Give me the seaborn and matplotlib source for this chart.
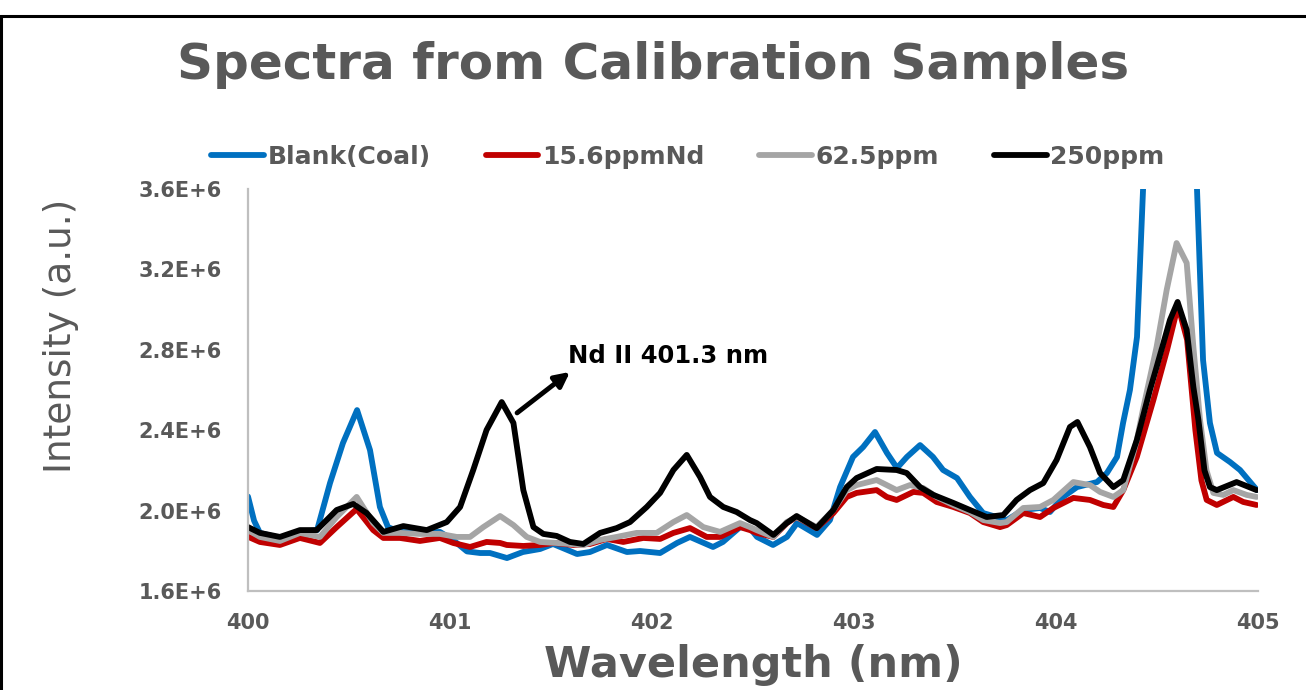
import matplotlib
matplotlib.use("Agg")
import matplotlib.pyplot as plt
import seaborn as sns
import pandas as pd
from matplotlib.lines import Line2D

# ---------------- data (intensity in units of 1E+6) ----------------
series_names = ["Blank(Coal)", "15.6ppmNd", "62.5ppm", "250ppm"]
series_colors = ["#0070C0", "#C00000", "#A5A5A5", "#000000"]

blank_wl = [400.000, 400.030, 400.059, 400.158, 400.257, 400.342, 400.406, 400.470, 400.540, 400.604,
            400.653, 400.693, 400.752, 400.851, 400.950, 401.015, 401.084, 401.149, 401.198, 401.282,
            401.361, 401.446, 401.510, 401.629, 401.693, 401.777, 401.876, 401.941, 402.040, 402.124,
            402.188, 402.302, 402.351, 402.436, 402.485, 402.520, 402.599, 402.668, 402.718, 402.817,
            402.881, 402.931, 402.995, 403.045, 403.104, 403.163, 403.213, 403.262, 403.327, 403.391,
            403.441, 403.510, 403.574, 403.639, 403.723, 403.757, 403.837, 403.921, 403.970, 404.035,
            404.104, 404.203, 404.252, 404.302, 404.332, 404.366, 404.401, 404.431, 404.500, 404.600,
            404.680, 404.698, 404.728, 404.762, 404.797, 404.861, 404.911, 404.995]
blank_int = [2.070, 1.950, 1.889, 1.864, 1.894, 1.903, 2.137, 2.336, 2.500, 2.301,
             2.018, 1.918, 1.894, 1.889, 1.894, 1.854, 1.797, 1.789, 1.789, 1.764,
             1.794, 1.809, 1.834, 1.784, 1.794, 1.829, 1.794, 1.799, 1.789, 1.839,
             1.869, 1.819, 1.844, 1.918, 1.913, 1.869, 1.829, 1.869, 1.938, 1.879,
             1.953, 2.117, 2.267, 2.316, 2.391, 2.287, 2.212, 2.267, 2.326, 2.267,
             2.202, 2.162, 2.068, 1.988, 1.963, 1.953, 2.003, 2.013, 1.993, 2.068,
             2.117, 2.142, 2.187, 2.267, 2.436, 2.600, 2.864, 3.600, 4.300, 4.600,
             4.300, 3.600, 2.749, 2.436, 2.287, 2.242, 2.202, 2.102]

nd15_wl = [400.000, 400.059, 400.158, 400.257, 400.356, 400.439, 400.538, 400.620, 400.670, 400.752,
           400.851, 400.950, 401.016, 401.099, 401.181, 401.248, 401.281, 401.363, 401.446, 401.512,
           401.611, 401.693, 401.776, 401.858, 401.957, 402.040, 402.106, 402.188, 402.271, 402.337,
           402.436, 402.485, 402.518, 402.601, 402.667, 402.716, 402.815, 402.898, 402.964, 403.013,
           403.112, 403.162, 403.211, 403.294, 403.343, 403.409, 403.492, 403.574, 403.640, 403.723,
           403.756, 403.838, 403.921, 403.987, 404.086, 404.168, 404.234, 404.284, 404.333, 404.400,
           404.482, 404.550, 404.604, 404.649, 404.690, 404.720, 404.746, 404.796, 404.878, 404.927,
           404.993]
nd15_int = [1.870, 1.844, 1.829, 1.864, 1.839, 1.918, 2.008, 1.903, 1.864, 1.864,
            1.849, 1.864, 1.839, 1.819, 1.844, 1.839, 1.829, 1.824, 1.829, 1.839,
            1.829, 1.834, 1.859, 1.844, 1.864, 1.859, 1.889, 1.913, 1.869, 1.869,
            1.918, 1.903, 1.889, 1.869, 1.938, 1.968, 1.913, 1.988, 2.068, 2.088,
            2.102, 2.068, 2.053, 2.093, 2.088, 2.043, 2.018, 1.988, 1.943, 1.918,
            1.928, 1.988, 1.968, 2.013, 2.063, 2.053, 2.028, 2.018, 2.102, 2.267,
            2.550, 2.800, 3.020, 2.850, 2.400, 2.150, 2.053, 2.028, 2.068, 2.043,
            2.028]

nd62_wl = [400.000, 400.059, 400.158, 400.257, 400.356, 400.439, 400.538, 400.620, 400.670, 400.752,
           400.851, 400.950, 401.033, 401.099, 401.165, 401.248, 401.314, 401.380, 401.446, 401.528,
           401.660, 401.743, 401.825, 401.924, 402.023, 402.106, 402.172, 402.254, 402.337, 402.436,
           402.485, 402.518, 402.601, 402.667, 402.716, 402.815, 402.898, 402.964, 403.013, 403.112,
           403.162, 403.211, 403.277, 403.343, 403.409, 403.492, 403.574, 403.640, 403.723, 403.756,
           403.838, 403.921, 403.987, 404.086, 404.168, 404.218, 404.284, 404.333, 404.400, 404.430,
           404.498, 404.548, 404.597, 404.647, 404.680, 404.713, 404.745, 404.779, 404.828, 404.878,
           404.944, 404.993]
nd62_int = [1.903, 1.869, 1.849, 1.889, 1.869, 1.968, 2.068, 1.938, 1.889, 1.889,
            1.884, 1.884, 1.869, 1.869, 1.918, 1.973, 1.928, 1.869, 1.844, 1.839,
            1.829, 1.854, 1.869, 1.889, 1.889, 1.943, 1.978, 1.918, 1.894, 1.938,
            1.918, 1.903, 1.869, 1.943, 1.968, 1.918, 2.003, 2.102, 2.127, 2.152,
            2.127, 2.102, 2.127, 2.112, 2.068, 2.028, 1.993, 1.953, 1.938, 1.943,
            2.013, 2.018, 2.053, 2.142, 2.127, 2.093, 2.068, 2.102, 2.350, 2.500,
            2.814, 3.098, 3.331, 3.232, 2.814, 2.451, 2.200, 2.088, 2.078, 2.102,
            2.078, 2.068]

nd250_wl = [400.000, 400.059, 400.158, 400.257, 400.340, 400.439, 400.521, 400.587, 400.670, 400.769,
            400.885, 400.984, 401.050, 401.115, 401.181, 401.256, 401.314, 401.363, 401.413, 401.462,
            401.528, 401.594, 401.660, 401.743, 401.825, 401.891, 401.974, 402.040, 402.106, 402.172,
            402.238, 402.287, 402.353, 402.419, 402.485, 402.518, 402.601, 402.667, 402.716, 402.815,
            402.898, 402.964, 403.013, 403.112, 403.211, 403.261, 403.327, 403.393, 403.492, 403.574,
            403.657, 403.739, 403.805, 403.871, 403.937, 404.003, 404.069, 404.106, 404.168, 404.218,
            404.284, 404.333, 404.400, 404.465, 404.498, 404.564, 404.602, 404.647, 404.680, 404.705,
            404.735, 404.762, 404.796, 404.894, 404.993]
nd250_int = [1.918, 1.889, 1.869, 1.903, 1.903, 2.003, 2.033, 1.988, 1.894, 1.923,
             1.903, 1.943, 2.018, 2.202, 2.401, 2.540, 2.436, 2.102, 1.918, 1.884,
             1.874, 1.844, 1.834, 1.889, 1.913, 1.943, 2.018, 2.088, 2.202, 2.277,
             2.167, 2.068, 2.018, 1.993, 1.953, 1.938, 1.879, 1.938, 1.973, 1.913,
             2.003, 2.117, 2.162, 2.207, 2.202, 2.187, 2.117, 2.078, 2.038, 2.003,
             1.968, 1.978, 2.053, 2.102, 2.137, 2.252, 2.416, 2.441, 2.316, 2.187,
             2.117, 2.152, 2.351, 2.600, 2.714, 2.948, 3.038, 2.899, 2.615, 2.451,
             2.200, 2.117, 2.102, 2.142, 2.102]

x_ticks = [400, 401, 402, 403, 404, 405]
x_tick_labels = ["400", "401", "402", "403", "404", "405"]
y_ticks = [1.6, 2.0, 2.4, 2.8, 3.2, 3.6]
y_tick_labels = ["1.6E+6", "2.0E+6", "2.4E+6", "2.8E+6", "3.2E+6", "3.6E+6"]

title_text = "Spectra from Calibration Samples"
x_label = "Wavelength (nm)"
y_label = "Intensity (a.u.)"
annot_text = "Nd II 401.3 nm"
annot_tail = (401.332, 2.486)
annot_head = (401.594, 2.690)
annot_text_pos = (401.584, 2.769)

# ---------------- build long table ----------------
frames = []
for name, wl, it in zip(series_names,
                        [blank_wl, nd15_wl, nd62_wl, nd250_wl],
                        [blank_int, nd15_int, nd62_int, nd250_int]):
    frames.append(pd.DataFrame({"Wavelength": wl,
                                "Intensity": [v * 1e6 for v in it],
                                "Sample": name}))
df = pd.concat(frames, ignore_index=True)

# ---------------- plot ----------------
sns.set_theme(style="white")
plt.rcParams["font.family"] = ["DejaVu Sans"]
gray_txt = "#595959"

fig = plt.figure(figsize=(13.06, 6.90), dpi=100)
ax = fig.add_axes([248 / 1306, 1 - 591 / 690, 1010 / 1306, 402 / 690])

sns.lineplot(data=df, x="Wavelength", y="Intensity", hue="Sample",
             hue_order=series_names, palette=series_colors,
             estimator=None, sort=True, linewidth=4.2, ax=ax, legend=True)
for ln in ax.lines:
    ln.set_solid_joinstyle("round")
    ln.set_solid_capstyle("round")

ax.set_xlim(400, 405)
ax.set_ylim(1.6e6, 3.6e6)
ax.set_xticks(x_ticks)
ax.set_xticklabels(x_tick_labels)
ax.set_yticks([v * 1e6 for v in y_ticks])
ax.set_yticklabels(y_tick_labels)
ax.tick_params(axis="both", length=0, labelcolor=gray_txt, labelsize=15)
ax.tick_params(axis="y", pad=19)
ax.tick_params(axis="x", pad=16)
for lab in ax.get_xticklabels() + ax.get_yticklabels():
    lab.set_fontweight("bold")

for side in ["top", "right"]:
    ax.spines[side].set_visible(False)
for side in ["left", "bottom"]:
    ax.spines[side].set_color("#BFBFBF")
    ax.spines[side].set_linewidth(1.6)
ax.grid(False)

ax.set_xlabel(x_label, fontsize=31, fontweight="bold", color=gray_txt, va="center")
ax.xaxis.set_label_coords(0.5, -0.184)
ax.set_ylabel(y_label, fontsize=27, color=gray_txt, va="center")
ax.yaxis.set_label_coords(-0.185, 0.634)

# legend
handles, labels = ax.get_legend_handles_labels()
if ax.legend_:
    ax.legend_.remove()
leg = fig.legend(handles, labels, loc="center", bbox_to_anchor=(688 / 1306, 1 - 157 / 690),
                 ncol=4, frameon=False, handlelength=2.1, handletextpad=0.15,
                 columnspacing=2.2, prop={"weight": "bold", "size": 18})
for t in leg.get_texts():
    t.set_color(gray_txt)
for h in leg.legend_handles:
    h.set_linewidth(4.2)
    h.set_solid_capstyle("round")

# title
fig.text(0.5, 1 - 65 / 690, title_text, ha="center", va="center",
         fontsize=36, fontweight="bold", color=gray_txt)

# annotation
ax.annotate("", xy=(annot_head[0], annot_head[1] * 1e6),
            xytext=(annot_tail[0], annot_tail[1] * 1e6),
            arrowprops=dict(arrowstyle="-|>", color="black", lw=3.5, mutation_scale=22,
                            shrinkA=0, shrinkB=0))
ax.text(annot_text_pos[0], annot_text_pos[1] * 1e6, annot_text, ha="left", va="center",
        fontsize=17.5, fontweight="bold", color="black")

# outer frame lines (top and left)
fig.add_artist(Line2D([0, 1], [1 - 16 / 690, 1 - 16 / 690], transform=fig.transFigure,
                      color="black", lw=2.2))
fig.add_artist(Line2D([1 / 1306, 1 / 1306], [0, 1 - 16 / 690], transform=fig.transFigure,
                      color="black", lw=2.2))

fig.savefig("out.png", dpi=100, facecolor="white")
